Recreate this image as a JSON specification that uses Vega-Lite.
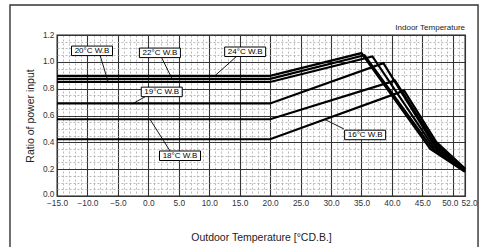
{
  "$schema": "https://vega.github.io/schema/vega-lite/v6.json",
  "width": 408,
  "height": 161,
  "autosize": {"type": "none"},
  "padding": {"left": 57, "top": 35, "right": 18, "bottom": 51},
  "background": "white",
  "config": {
    "view": {"stroke": "#1a1a1a", "strokeWidth": 1.3},
    "font": "Liberation Sans",
    "axis": {"labelFont": "Liberation Sans", "titleFont": "Liberation Sans", "labelOverlap": false, "labelFlush": false, "ticks": false, "domain": false, "grid": true, "labelFontSize": 8.3, "labelColor": "#333", "titleFontSize": 10.5, "titleFontWeight": "normal", "titleColor": "#222"}
  },
  "title": {"text": "Indoor Temperature", "anchor": "end", "frame": "group", "fontSize": 8, "fontWeight": "normal", "color": "#222", "offset": -27.5, "font": "Liberation Sans"},
  "datasets": {
    "curves": [
      {"t": "24", "x": -15, "y": 0.895}, {"t": "24", "x": 20, "y": 0.895}, {"t": "24", "x": 35, "y": 1.065}, {"t": "24", "x": 46.3, "y": 0.35}, {"t": "24", "x": 52, "y": 0.18},
      {"t": "22", "x": -15, "y": 0.873}, {"t": "22", "x": 20, "y": 0.873}, {"t": "22", "x": 35.5, "y": 1.05}, {"t": "22", "x": 46.5, "y": 0.362}, {"t": "22", "x": 52, "y": 0.185},
      {"t": "20", "x": -15, "y": 0.85}, {"t": "20", "x": 20, "y": 0.85}, {"t": "20", "x": 36.8, "y": 1.04}, {"t": "20", "x": 46.7, "y": 0.372}, {"t": "20", "x": 52, "y": 0.19},
      {"t": "19", "x": -15, "y": 0.69}, {"t": "19", "x": 20, "y": 0.69}, {"t": "19", "x": 38.6, "y": 0.99}, {"t": "19", "x": 46.9, "y": 0.382}, {"t": "19", "x": 52, "y": 0.195},
      {"t": "18", "x": -15, "y": 0.572}, {"t": "18", "x": 20, "y": 0.572}, {"t": "18", "x": 40.5, "y": 0.86}, {"t": "18", "x": 47.1, "y": 0.392}, {"t": "18", "x": 52, "y": 0.2},
      {"t": "16", "x": -15, "y": 0.423}, {"t": "16", "x": 20, "y": 0.423}, {"t": "16", "x": 42, "y": 0.785}, {"t": "16", "x": 47.3, "y": 0.402}, {"t": "16", "x": 52, "y": 0.205}
    ],
    "labels": [
      {"label": "20°C W.B", "lx": -9.25, "ly": 1.082, "ax": -7.9, "ay": 1.045, "bx": -6.6, "by": 0.85},
      {"label": "22°C W.B", "lx": 1.9, "ly": 1.067, "ax": 2.2, "ay": 1.03, "bx": 3.9, "by": 0.873},
      {"label": "24°C W.B", "lx": 15.9, "ly": 1.075, "ax": 14.4, "ay": 1.037, "bx": 10.9, "by": 0.895},
      {"label": "19°C W.B", "lx": 2.2, "ly": 0.776, "ax": -0.55, "ay": 0.739, "bx": -2.5, "by": 0.69},
      {"label": "18°C W.B", "lx": 5.2, "ly": 0.3, "ax": 3.55, "ay": 0.336, "bx": 0.27, "by": 0.572},
      {"label": "16°C W.B", "lx": 35.6, "ly": 0.455, "ax": 32.1, "ay": 0.5, "bx": 29, "by": 0.57}
    ]
  },
  "layer": [
    {
      "data": {"name": "curves"},
      "mark": {"type": "line", "color": "black", "strokeWidth": 2.2},
      "encoding": {
        "x": {
          "field": "x", "type": "quantitative",
          "scale": {"domain": [-15, 52], "nice": false, "zero": false},
          "axis": {
            "title": "Outdoor Temperature [°CD.B.]",
            "values": [-15,-14,-13,-12,-11,-10,-9,-8,-7,-6,-5,-4,-3,-2,-1,0,1,2,3,4,5,6,7,8,9,10,11,12,13,14,15,16,17,18,19,20,21,22,23,24,25,26,27,28,29,30,31,32,33,34,35,36,37,38,39,40,41,42,43,44,45,46,47,48,49,50,51,52],
            "labelExpr": "datum.value % 5 == 0 || datum.value == 52 ? format(datum.value, '.1f') : ''",
            "labelPadding": 2, "labelOverlap": false, "labelFlush": false,
            "labelOffset": {"condition": [{"test": "datum.value == 52", "value": 4}, {"test": "datum.value == 50", "value": -3}], "value": 0},
            "gridColor": {"condition": {"test": "datum.value % 5 == 0 || datum.value == 52", "value": "#333"}, "value": "#a8a8a8"},
            "gridDash": {"condition": {"test": "datum.value % 5 == 0 || datum.value == 52", "value": [1, 0]}, "value": [2, 2]},
            "gridWidth": {"condition": {"test": "datum.value % 5 == 0 || datum.value == 52", "value": 1.1}, "value": 0.8},
            "titlePadding": 26
          }
        },
        "y": {
          "field": "y", "type": "quantitative",
          "scale": {"domain": [0, 1.2], "nice": false, "zero": false},
          "axis": {
            "title": "Ratio of power input",
            "values": [0,0.05,0.1,0.15,0.2,0.25,0.3,0.35,0.4,0.45,0.5,0.55,0.6,0.65,0.7,0.75,0.8,0.85,0.9,0.95,1,1.05,1.1,1.15,1.2],
            "labelExpr": "abs(datum.value*5 - round(datum.value*5)) < 0.001 ? format(datum.value, '.1f') : ''",
            "labelPadding": 3, "labelOverlap": false, "labelFlush": false,
            "labelOffset": {"condition": {"test": "datum.value == 0", "value": -2}, "value": 0},
            "gridColor": {"condition": {"test": "abs(datum.value*5 - round(datum.value*5)) < 0.001", "value": "#333"}, "value": "#a8a8a8"},
            "gridDash": {"condition": {"test": "abs(datum.value*5 - round(datum.value*5)) < 0.001", "value": [1, 0]}, "value": [2, 2]},
            "gridWidth": {"condition": {"test": "abs(datum.value*5 - round(datum.value*5)) < 0.001", "value": 1.1}, "value": 0.8},
            "titlePadding": 7
          }
        },
        "detail": {"field": "t"}
      }
    },
    {
      "data": {"values": [{}]},
      "mark": {"type": "rect", "fillOpacity": 0, "stroke": "#333", "strokeWidth": 1.4, "clip": false},
      "encoding": {
        "x": {"datum": -22.72, "type": "quantitative", "scale": {"domain": [-15, 52], "nice": false, "zero": false},
          "axis": {
            "title": "Outdoor Temperature [°CD.B.]",
            "values": [-15,-14,-13,-12,-11,-10,-9,-8,-7,-6,-5,-4,-3,-2,-1,0,1,2,3,4,5,6,7,8,9,10,11,12,13,14,15,16,17,18,19,20,21,22,23,24,25,26,27,28,29,30,31,32,33,34,35,36,37,38,39,40,41,42,43,44,45,46,47,48,49,50,51,52],
            "labelExpr": "datum.value % 5 == 0 || datum.value == 52 ? format(datum.value, '.1f') : ''",
            "labelPadding": 2, "labelOverlap": false, "labelFlush": false,
            "labelOffset": {"condition": [{"test": "datum.value == 52", "value": 4}, {"test": "datum.value == 50", "value": -3}], "value": 0},
            "gridColor": {"condition": {"test": "datum.value % 5 == 0 || datum.value == 52", "value": "#333"}, "value": "#a8a8a8"},
            "gridDash": {"condition": {"test": "datum.value % 5 == 0 || datum.value == 52", "value": [1, 0]}, "value": [2, 2]},
            "gridWidth": {"condition": {"test": "datum.value % 5 == 0 || datum.value == 52", "value": 1.1}, "value": 0.8},
            "titlePadding": 26
          }},
        "x2": {"datum": 54.14},
        "y": {"datum": 1.4236, "type": "quantitative", "scale": {"domain": [0, 1.2], "nice": false, "zero": false},
          "axis": {
            "title": "Ratio of power input",
            "values": [0,0.05,0.1,0.15,0.2,0.25,0.3,0.35,0.4,0.45,0.5,0.55,0.6,0.65,0.7,0.75,0.8,0.85,0.9,0.95,1,1.05,1.1,1.15,1.2],
            "labelExpr": "abs(datum.value*5 - round(datum.value*5)) < 0.001 ? format(datum.value, '.1f') : ''",
            "labelPadding": 3, "labelOverlap": false, "labelFlush": false,
            "labelOffset": {"condition": {"test": "datum.value == 0", "value": -2}, "value": 0},
            "gridColor": {"condition": {"test": "abs(datum.value*5 - round(datum.value*5)) < 0.001", "value": "#333"}, "value": "#a8a8a8"},
            "gridDash": {"condition": {"test": "abs(datum.value*5 - round(datum.value*5)) < 0.001", "value": [1, 0]}, "value": [2, 2]},
            "gridWidth": {"condition": {"test": "abs(datum.value*5 - round(datum.value*5)) < 0.001", "value": 1.1}, "value": 0.8},
            "titlePadding": 7
          }},
        "y2": {"datum": -0.45}
      }
    },
    {
      "data": {"name": "labels"},
      "mark": {"type": "rule", "color": "black", "strokeWidth": 0.9},
      "encoding": {
        "x": {"field": "ax", "type": "quantitative", "scale": {"domain": [-15, 52], "nice": false, "zero": false},
          "axis": {
            "title": "Outdoor Temperature [°CD.B.]",
            "values": [-15,-14,-13,-12,-11,-10,-9,-8,-7,-6,-5,-4,-3,-2,-1,0,1,2,3,4,5,6,7,8,9,10,11,12,13,14,15,16,17,18,19,20,21,22,23,24,25,26,27,28,29,30,31,32,33,34,35,36,37,38,39,40,41,42,43,44,45,46,47,48,49,50,51,52],
            "labelExpr": "datum.value % 5 == 0 || datum.value == 52 ? format(datum.value, '.1f') : ''",
            "labelPadding": 2, "labelOverlap": false, "labelFlush": false,
            "labelOffset": {"condition": [{"test": "datum.value == 52", "value": 4}, {"test": "datum.value == 50", "value": -3}], "value": 0},
            "gridColor": {"condition": {"test": "datum.value % 5 == 0 || datum.value == 52", "value": "#333"}, "value": "#a8a8a8"},
            "gridDash": {"condition": {"test": "datum.value % 5 == 0 || datum.value == 52", "value": [1, 0]}, "value": [2, 2]},
            "gridWidth": {"condition": {"test": "datum.value % 5 == 0 || datum.value == 52", "value": 1.1}, "value": 0.8},
            "titlePadding": 26
          }},
        "x2": {"field": "bx"},
        "y": {"field": "ay", "type": "quantitative", "scale": {"domain": [0, 1.2], "nice": false, "zero": false},
          "axis": {
            "title": "Ratio of power input",
            "values": [0,0.05,0.1,0.15,0.2,0.25,0.3,0.35,0.4,0.45,0.5,0.55,0.6,0.65,0.7,0.75,0.8,0.85,0.9,0.95,1,1.05,1.1,1.15,1.2],
            "labelExpr": "abs(datum.value*5 - round(datum.value*5)) < 0.001 ? format(datum.value, '.1f') : ''",
            "labelPadding": 3, "labelOverlap": false, "labelFlush": false,
            "labelOffset": {"condition": {"test": "datum.value == 0", "value": -2}, "value": 0},
            "gridColor": {"condition": {"test": "abs(datum.value*5 - round(datum.value*5)) < 0.001", "value": "#333"}, "value": "#a8a8a8"},
            "gridDash": {"condition": {"test": "abs(datum.value*5 - round(datum.value*5)) < 0.001", "value": [1, 0]}, "value": [2, 2]},
            "gridWidth": {"condition": {"test": "abs(datum.value*5 - round(datum.value*5)) < 0.001", "value": 1.1}, "value": 0.8},
            "titlePadding": 7
          }},
        "y2": {"field": "by"}
      }
    },
    {
      "data": {"name": "labels"},
      "mark": {"type": "point", "shape": "M-1,-0.232L1,-0.232L1,0.232L-1,0.232Z", "size": 1681, "filled": true, "fill": "white", "stroke": "black", "strokeWidth": 1, "opacity": 1},
      "encoding": {
        "x": {"field": "lx", "type": "quantitative", "scale": {"domain": [-15, 52], "nice": false, "zero": false},
          "axis": {
            "title": "Outdoor Temperature [°CD.B.]",
            "values": [-15,-14,-13,-12,-11,-10,-9,-8,-7,-6,-5,-4,-3,-2,-1,0,1,2,3,4,5,6,7,8,9,10,11,12,13,14,15,16,17,18,19,20,21,22,23,24,25,26,27,28,29,30,31,32,33,34,35,36,37,38,39,40,41,42,43,44,45,46,47,48,49,50,51,52],
            "labelExpr": "datum.value % 5 == 0 || datum.value == 52 ? format(datum.value, '.1f') : ''",
            "labelPadding": 2, "labelOverlap": false, "labelFlush": false,
            "labelOffset": {"condition": [{"test": "datum.value == 52", "value": 4}, {"test": "datum.value == 50", "value": -3}], "value": 0},
            "gridColor": {"condition": {"test": "datum.value % 5 == 0 || datum.value == 52", "value": "#333"}, "value": "#a8a8a8"},
            "gridDash": {"condition": {"test": "datum.value % 5 == 0 || datum.value == 52", "value": [1, 0]}, "value": [2, 2]},
            "gridWidth": {"condition": {"test": "datum.value % 5 == 0 || datum.value == 52", "value": 1.1}, "value": 0.8},
            "titlePadding": 26
          }},
        "y": {"field": "ly", "type": "quantitative", "scale": {"domain": [0, 1.2], "nice": false, "zero": false},
          "axis": {
            "title": "Ratio of power input",
            "values": [0,0.05,0.1,0.15,0.2,0.25,0.3,0.35,0.4,0.45,0.5,0.55,0.6,0.65,0.7,0.75,0.8,0.85,0.9,0.95,1,1.05,1.1,1.15,1.2],
            "labelExpr": "abs(datum.value*5 - round(datum.value*5)) < 0.001 ? format(datum.value, '.1f') : ''",
            "labelPadding": 3, "labelOverlap": false, "labelFlush": false,
            "labelOffset": {"condition": {"test": "datum.value == 0", "value": -2}, "value": 0},
            "gridColor": {"condition": {"test": "abs(datum.value*5 - round(datum.value*5)) < 0.001", "value": "#333"}, "value": "#a8a8a8"},
            "gridDash": {"condition": {"test": "abs(datum.value*5 - round(datum.value*5)) < 0.001", "value": [1, 0]}, "value": [2, 2]},
            "gridWidth": {"condition": {"test": "abs(datum.value*5 - round(datum.value*5)) < 0.001", "value": 1.1}, "value": 0.8},
            "titlePadding": 7
          }}
      }
    },
    {
      "data": {"name": "labels"},
      "mark": {"type": "text", "fontSize": 8, "font": "Liberation Sans", "color": "black", "align": "center", "baseline": "middle", "dy": 0.5},
      "encoding": {
        "x": {"field": "lx", "type": "quantitative", "scale": {"domain": [-15, 52], "nice": false, "zero": false},
          "axis": {
            "title": "Outdoor Temperature [°CD.B.]",
            "values": [-15,-14,-13,-12,-11,-10,-9,-8,-7,-6,-5,-4,-3,-2,-1,0,1,2,3,4,5,6,7,8,9,10,11,12,13,14,15,16,17,18,19,20,21,22,23,24,25,26,27,28,29,30,31,32,33,34,35,36,37,38,39,40,41,42,43,44,45,46,47,48,49,50,51,52],
            "labelExpr": "datum.value % 5 == 0 || datum.value == 52 ? format(datum.value, '.1f') : ''",
            "labelPadding": 2, "labelOverlap": false, "labelFlush": false,
            "labelOffset": {"condition": [{"test": "datum.value == 52", "value": 4}, {"test": "datum.value == 50", "value": -3}], "value": 0},
            "gridColor": {"condition": {"test": "datum.value % 5 == 0 || datum.value == 52", "value": "#333"}, "value": "#a8a8a8"},
            "gridDash": {"condition": {"test": "datum.value % 5 == 0 || datum.value == 52", "value": [1, 0]}, "value": [2, 2]},
            "gridWidth": {"condition": {"test": "datum.value % 5 == 0 || datum.value == 52", "value": 1.1}, "value": 0.8},
            "titlePadding": 26
          }},
        "y": {"field": "ly", "type": "quantitative", "scale": {"domain": [0, 1.2], "nice": false, "zero": false},
          "axis": {
            "title": "Ratio of power input",
            "values": [0,0.05,0.1,0.15,0.2,0.25,0.3,0.35,0.4,0.45,0.5,0.55,0.6,0.65,0.7,0.75,0.8,0.85,0.9,0.95,1,1.05,1.1,1.15,1.2],
            "labelExpr": "abs(datum.value*5 - round(datum.value*5)) < 0.001 ? format(datum.value, '.1f') : ''",
            "labelPadding": 3, "labelOverlap": false, "labelFlush": false,
            "labelOffset": {"condition": {"test": "datum.value == 0", "value": -2}, "value": 0},
            "gridColor": {"condition": {"test": "abs(datum.value*5 - round(datum.value*5)) < 0.001", "value": "#333"}, "value": "#a8a8a8"},
            "gridDash": {"condition": {"test": "abs(datum.value*5 - round(datum.value*5)) < 0.001", "value": [1, 0]}, "value": [2, 2]},
            "gridWidth": {"condition": {"test": "abs(datum.value*5 - round(datum.value*5)) < 0.001", "value": 1.1}, "value": 0.8},
            "titlePadding": 7
          }},
        "text": {"field": "label"}
      }
    }
  ]
}
